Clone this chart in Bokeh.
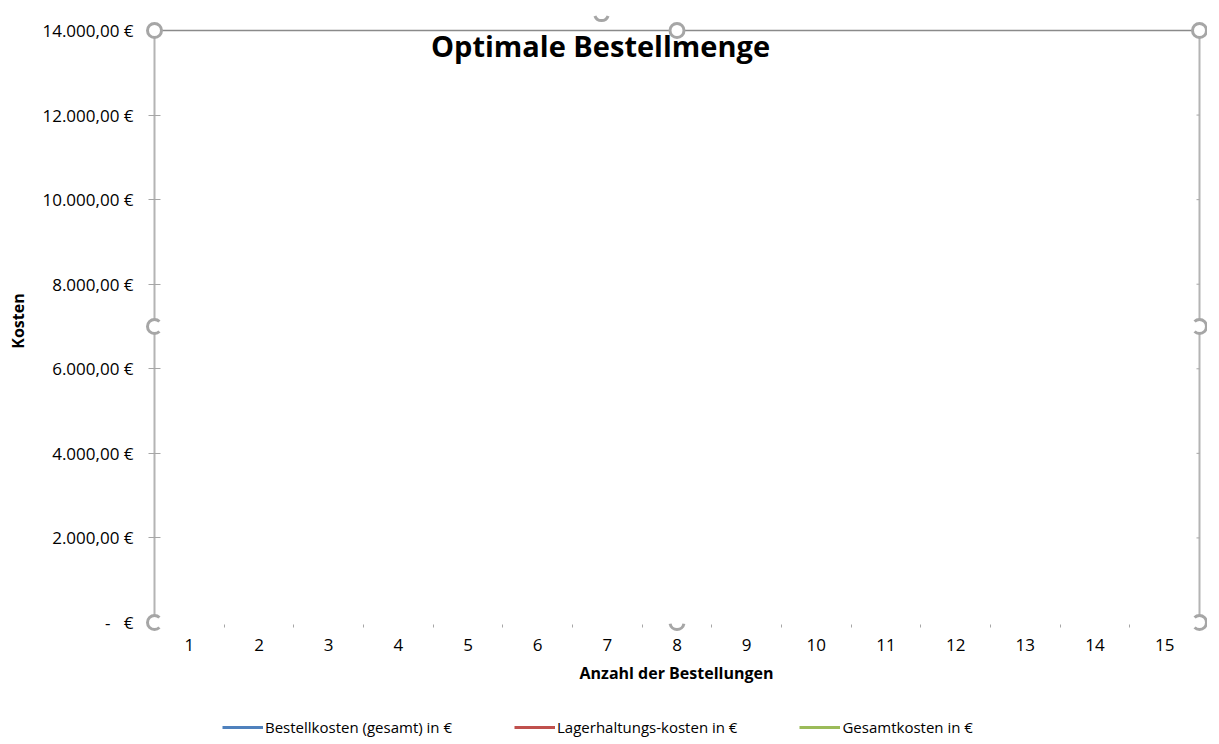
import math
from bokeh.plotting import figure
from bokeh.layouts import column
from bokeh.models import (Range1d, FixedTicker, Legend, LegendItem, Label, ColumnDataSource)
from bokeh.embed import file_html
from bokeh.resources import INLINE

# ---------------- data (the source chart holds no values yet) ----------------
anzahl = list(range(1, 16))                 # Anzahl der Bestellungen
bestellkosten = []                          # Bestellkosten (gesamt) in €
lagerhaltungskosten = []                    # Lagerhaltungs-kosten in €
gesamtkosten = []                           # Gesamtkosten in €
series_names = ["Bestellkosten (gesamt) in €", "Lagerhaltungs-kosten in €", "Gesamtkosten in €"]
y_ticks = [0, 2000, 4000, 6000, 8000, 10000, 12000, 14000]
y_tick_labels = ["-\u00a0\u00a0\u00a0€", "2.000,00 €", "4.000,00 €", "6.000,00 €",
                 "8.000,00 €", "10.000,00 €", "12.000,00 €", "14.000,00 €"]
chart_title = "Optimale Bestellmenge"
x_title = "Anzahl der Bestellungen"
y_title = "Kosten"

# ---------------- style ----------------
series_colors = ["#4F81BD", "#C0504D", "#9BBB59"]
FONT = "Open Sans"
TEXT = "#000000"
GRAY = "#a6a6a6"

AREA_W, AREA_H = 1045, 592          # plot area between the axes (px)
PAD_L, PAD_R, PAD_T, PAD_B = 9, 8, 21, 10   # room for the selection handles
BORDER_L, BORDER_T, BORDER_B = 145, 9, 75
FIG_W = BORDER_L + AREA_W + PAD_L + PAD_R
LEGEND_H = 30

x_lo, x_hi = anzahl[0] - 0.5, anzahl[-1] + 0.5
y_lo, y_hi = y_ticks[0], y_ticks[-1]
ux = (x_hi - x_lo) / AREA_W
uy = (y_hi - y_lo) / AREA_H
x_mid, y_mid = (x_lo + x_hi) / 2, (y_lo + y_hi) / 2

p = figure(frame_width=AREA_W + PAD_L + PAD_R, frame_height=AREA_H + PAD_T + PAD_B,
           x_range=Range1d(x_lo - PAD_L * ux, x_hi + PAD_R * ux),
           y_range=Range1d(y_lo - PAD_B * uy, y_hi + PAD_T * uy),
           min_border_left=BORDER_L, min_border_right=0,
           min_border_top=BORDER_T, min_border_bottom=BORDER_B,
           output_backend="svg", toolbar_location=None, tools="")
p.outline_line_color = None
p.background_fill_color = "white"
p.border_fill_color = "white"
p.xgrid.grid_line_color = None
p.ygrid.grid_line_color = None

# ---------------- series (empty) ----------------
series = [bestellkosten, lagerhaltungskosten, gesamtkosten]
for ys, col in zip(series, series_colors):
    src = ColumnDataSource(dict(x=anzahl[:len(ys)], y=ys))
    p.line("x", "y", source=src, line_color=col, line_width=3)

# ---------------- plot-area border ----------------
p.segment(x0=[x_lo, x_hi], y0=[y_lo, y_lo], x1=[x_lo, x_hi], y1=[y_hi, y_hi],
          line_color="#b4b4b4", line_width=2)
p.segment(x0=[x_lo], y0=[y_hi], x1=[x_hi], y1=[y_hi], line_color="#8a8a8a", line_width=1.5)
# tick marks of the right-hand axis line (pointing inwards)
inner = y_ticks[1:-1]
p.segment(x0=[x_hi - 3 * ux] * len(inner), y0=inner, x1=[x_hi] * len(inner), y1=inner,
          line_color=GRAY, line_width=1)

# ---------------- title ----------------
p.add_layout(Label(x=x_lo + 446 * ux, y=y_hi - 15 * uy, text=chart_title,
                   text_align="center", text_baseline="alphabetic",
                   text_font=FONT, text_font_size="29px", text_font_style="bold",
                   text_color=TEXT))

# ---------------- selection handles ----------------
hx = [x_lo, x_mid, x_hi, x_lo, x_hi, x_lo, x_mid, x_hi, x_lo + 447 * ux]
hy = [y_hi, y_hi, y_hi, y_mid, y_mid, y_lo, y_lo, y_lo, y_hi + 17 * uy]
h_start = [0, 0, 0, 45, 225, 45, 190, 225, 200]
h_end = [360, 360, 360, 315, 135, 315, 350, 135, 340]
hsrc = ColumnDataSource(dict(x=hx, y=hy,
                             s=[math.radians(a) for a in h_start],
                             e=[math.radians(a) for a in h_end]))
p.scatter("x", "y", source=hsrc, size=14, fill_color="white", line_color=None, level="overlay")
p.arc("x", "y", source=hsrc, radius=7, radius_units="screen", start_angle="s", end_angle="e",
      direction="anticlock", line_color=GRAY, line_width=3, level="overlay")

# ---------------- y axis (left) ----------------
yax = p.yaxis[0]
yax.ticker = FixedTicker(ticks=y_ticks)
yax.major_label_overrides = dict(zip(y_ticks, y_tick_labels))
yax.axis_line_color = None
yax.major_tick_line_color = GRAY
yax.major_tick_in = 15
yax.major_tick_out = -3
yax.minor_tick_line_color = None
yax.major_label_standoff = 12
yax.major_label_text_font = FONT
yax.major_label_text_font_size = "17px"
yax.major_label_text_color = TEXT
yax.axis_label = y_title
yax.axis_label_text_font = FONT
yax.axis_label_text_font_size = "16px"
yax.axis_label_text_font_style = "bold"
yax.axis_label_text_color = TEXT
yax.axis_label_standoff = 10

# ---------------- x axis ----------------
xax = p.xaxis[0]
xax.ticker = FixedTicker(ticks=anzahl, minor_ticks=[a + 0.5 for a in anzahl[:-1]])
xax.axis_line_color = None
xax.major_tick_line_color = None
xax.major_tick_in = 0
xax.major_tick_out = 0
xax.minor_tick_line_color = GRAY
xax.minor_tick_in = 8
xax.minor_tick_out = -5
xax.major_label_standoff = 6
xax.major_label_text_font = FONT
xax.major_label_text_font_size = "17px"
xax.major_label_text_color = TEXT
xax.axis_label = x_title
xax.axis_label_text_font = FONT
xax.axis_label_text_font_size = "16px"
xax.axis_label_text_font_style = "bold"
xax.axis_label_text_color = TEXT
xax.axis_label_standoff = 8

# ---------------- legend strip (own small figure below the chart) ----------------
lg = figure(frame_width=FIG_W, frame_height=LEGEND_H, x_range=Range1d(0, 1), y_range=Range1d(0, 1),
            min_border=0, x_axis_type=None, y_axis_type=None,
            output_backend="svg", toolbar_location=None, tools="")
lg.outline_line_color = None
lg.xgrid.grid_line_color = None
lg.ygrid.grid_line_color = None
items = []
for col, name in zip(series_colors, series_names):
    # swatch-only renderer: a single NaN point so the legend can draw its line sample
    src = ColumnDataSource(dict(x=[math.nan], y=[math.nan]))
    r = lg.line("x", "y", source=src, line_color=col, line_width=3)
    items.append(LegendItem(label=name, renderers=[r]))
legend = Legend(items=items, orientation="horizontal", location=(222, 0),
                padding=0, margin=0, spacing=62,
                glyph_width=41, glyph_height=20, label_standoff=2, label_height=20,
                label_text_font=FONT, label_text_font_size="15px", label_text_color=TEXT,
                border_line_color=None, background_fill_alpha=0)
lg.add_layout(legend)

layout = column(p, lg, spacing=0)
open("out.html", "w").write(file_html(layout, INLINE))
